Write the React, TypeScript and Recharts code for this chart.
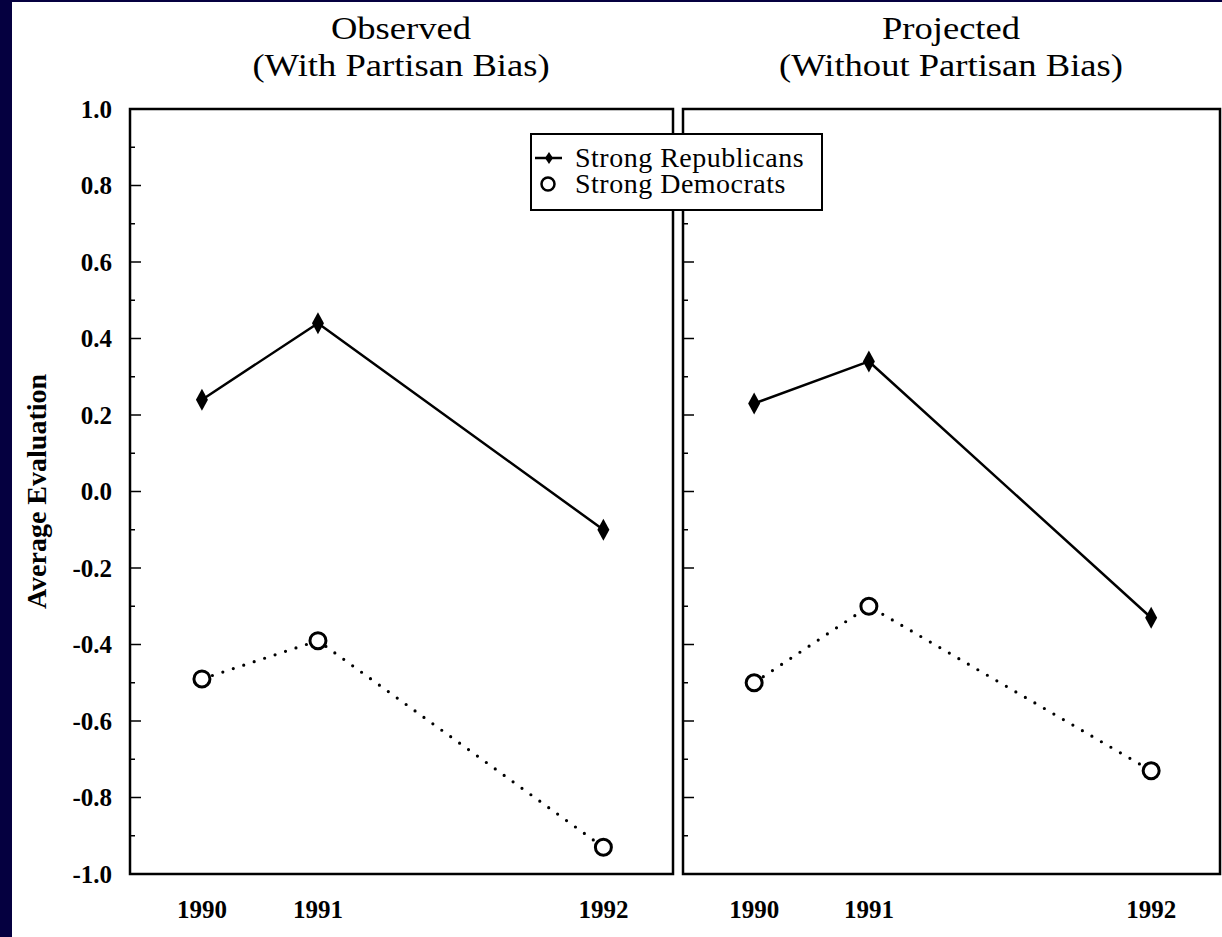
import React from 'react';
import { LineChart, Line, XAxis, YAxis, ReferenceArea, Legend } from 'recharts';

const years = ['1990', '1991', '1992'];
// where each survey sits on the time axis (the years are not evenly spaced in the figure)
const wavePos = [0, 1, 3.46];
const observedRep = [0.24, 0.44, -0.1];
const observedDem = [-0.49, -0.39, -0.93];
const projectedRep = [0.23, 0.34, -0.33];
const projectedDem = [-0.5, -0.3, -0.73];
const yTicks = [-1, -0.9, -0.8, -0.7, -0.6, -0.5, -0.4, -0.3, -0.2, -0.1, 0, 0.1, 0.2, 0.3, 0.4, 0.5, 0.6, 0.7, 0.8, 0.9, 1];
const observedTitle = ['Observed', '(With Partisan Bias)'];
const projectedTitle = ['Projected', '(Without Partisan Bias)'];
const repName = 'Strong Republicans';
const demName = 'Strong Democrats';
const legendOrder = ['rep', 'dem'];

const X_DOMAIN: [number, number] = [-0.62, 4.06];
const Y_DOMAIN: [number, number] = [-1, 1];
const SERIF = '"Liberation Serif", "Times New Roman", serif';

const toRows = (rep: number[], dem: number[]) =>
  years.map((year, i) => ({ year, t: wavePos[i], rep: rep[i], dem: dem[i] }));

const observedData = toRows(observedRep, observedDem);
const projectedData = toRows(projectedRep, projectedDem);

const YTick = (props: any) => {
  const { x, y, payload, showLabel } = props;
  const v = payload.value;
  const major = Math.round(v * 10) % 2 === 0;
  return (
    <g>
      <line x1={x} x2={x + (major ? 11 : 5)} y1={y} y2={y} stroke="#000" strokeWidth={1.5} />
      {showLabel && major && (
        <text x={x - 18} y={y} textAnchor="end" dominantBaseline="central" fill="#000"
          fontFamily={SERIF} fontSize={25} fontWeight={700}>
          {v.toFixed(1)}
        </text>
      )}
    </g>
  );
};

const renderDiamond = (props: any) => {
  const { cx, cy, index } = props;
  return (
    <polygon key={`dia-${index}`} fill="#000"
      points={`${cx},${cy - 11} ${cx + 6},${cy} ${cx},${cy + 11} ${cx - 6},${cy}`} />
  );
};

const LegendBox = ({ payload }: any) => {
  const items = [...(payload || [])].sort(
    (a: any, b: any) => legendOrder.indexOf(a.dataKey) - legendOrder.indexOf(b.dataKey));
  return (
    <div style={{
      boxSizing: 'border-box', width: 293, height: 78, border: '2px solid #000', background: '#fff',
      paddingTop: 10, fontFamily: SERIF, fontSize: 28, letterSpacing: 0.5, color: '#000',
    }}>
      {items.map((entry: any) => (
        <div key={entry.value} style={{ display: 'flex', alignItems: 'center', height: 26, lineHeight: '26px' }}>
          <svg width={43} height={26} style={{ flex: 'none' }}>
            {entry.dataKey === 'rep' ? (
              <g>
                <line x1={3} x2={30} y1={13} y2={13} stroke="#000" strokeWidth={2.5} />
                <polygon points="17,7 21,13 17,19 13,13" fill="#000" />
              </g>
            ) : (
              <circle cx={16} cy={13} r={6.5} fill="#fff" stroke="#000" strokeWidth={2.5} />
            )}
          </svg>
          <span style={{ whiteSpace: 'nowrap' }}>{entry.value}</span>
        </div>
      ))}
    </div>
  );
};

const Title = ({ lines, center }: { lines: string[]; center: number }) => (
  <div style={{
    position: 'absolute', left: center - 250, top: 10, width: 500, textAlign: 'center',
    fontFamily: SERIF, fontSize: 31, lineHeight: '37px', color: '#000', transform: 'scaleX(1.18)',
  }}>
    {lines.map((l) => <div key={l}>{l}</div>)}
  </div>
);

const Panel = ({ data, left, right, showLabels, withLegend }: any) => (
  <div style={{ position: 'absolute', left: 0, top: 0 }}>
    <LineChart width={1222} height={937} data={data}
      margin={{ top: 109, right: 1222 - right, bottom: 0, left: showLabels ? left - 130 : left - 10 }}>
      <XAxis type="number" dataKey="t" domain={X_DOMAIN} ticks={wavePos} allowDataOverflow interval={0}
        tickFormatter={(v: number) => years[wavePos.indexOf(v)]}
        axisLine={false} tickLine={false} tickSize={0} tickMargin={26} height={63}
        tick={{ fill: '#000', fontSize: 25, fontFamily: SERIF, fontWeight: 700 }} />
      <YAxis type="number" domain={Y_DOMAIN} ticks={yTicks} allowDataOverflow interval={0}
        width={showLabels ? 130 : 10} axisLine={false} tickLine={false} tickSize={0} tickMargin={0}
        tick={<YTick showLabel={showLabels} />}
        label={showLabels ? {
          value: 'Average Evaluation', angle: -90, position: 'insideLeft', offset: 36,
          style: { textAnchor: 'middle', fontFamily: SERIF, fontSize: 28, fontWeight: 700, fill: '#000' },
        } : undefined} />
      <ReferenceArea x1={X_DOMAIN[0]} x2={X_DOMAIN[1]} y1={Y_DOMAIN[0]} y2={Y_DOMAIN[1]}
        fill="none" stroke="#000" strokeWidth={2.5} fillOpacity={0} />
      <Line dataKey="rep" name={repName} stroke="#000" strokeWidth={2.5}
        dot={renderDiamond} activeDot={false} isAnimationActive={false} />
      <Line dataKey="dem" name={demName} stroke="#000" strokeWidth={3.2} strokeDasharray="0 11"
        strokeLinecap="round"
        dot={{ r: 8, fill: '#fff', stroke: '#000', strokeWidth: 3, strokeDasharray: 'none' }}
        activeDot={false} isAnimationActive={false} />
      {withLegend && (
        <Legend layout="horizontal" verticalAlign="middle" align="center" content={LegendBox}
          wrapperStyle={{ left: 530, top: 133, width: 293, height: 78 }} />
      )}
    </LineChart>
  </div>
);

export default function App() {
  return (
    <div style={{ position: 'absolute', left: 0, top: 0, width: 1222, height: 937, background: '#050040', overflow: 'hidden' }}>
      <div style={{ position: 'absolute', left: 12, top: 2, width: 1210, height: 935, background: '#fff' }} />
      <Title lines={observedTitle} center={401} />
      <Title lines={projectedTitle} center={951} />
      <Panel data={observedData} left={130} right={673} showLabels withLegend={false} />
      <Panel data={projectedData} left={683} right={1220} showLabels={false} withLegend />
    </div>
  );
}
